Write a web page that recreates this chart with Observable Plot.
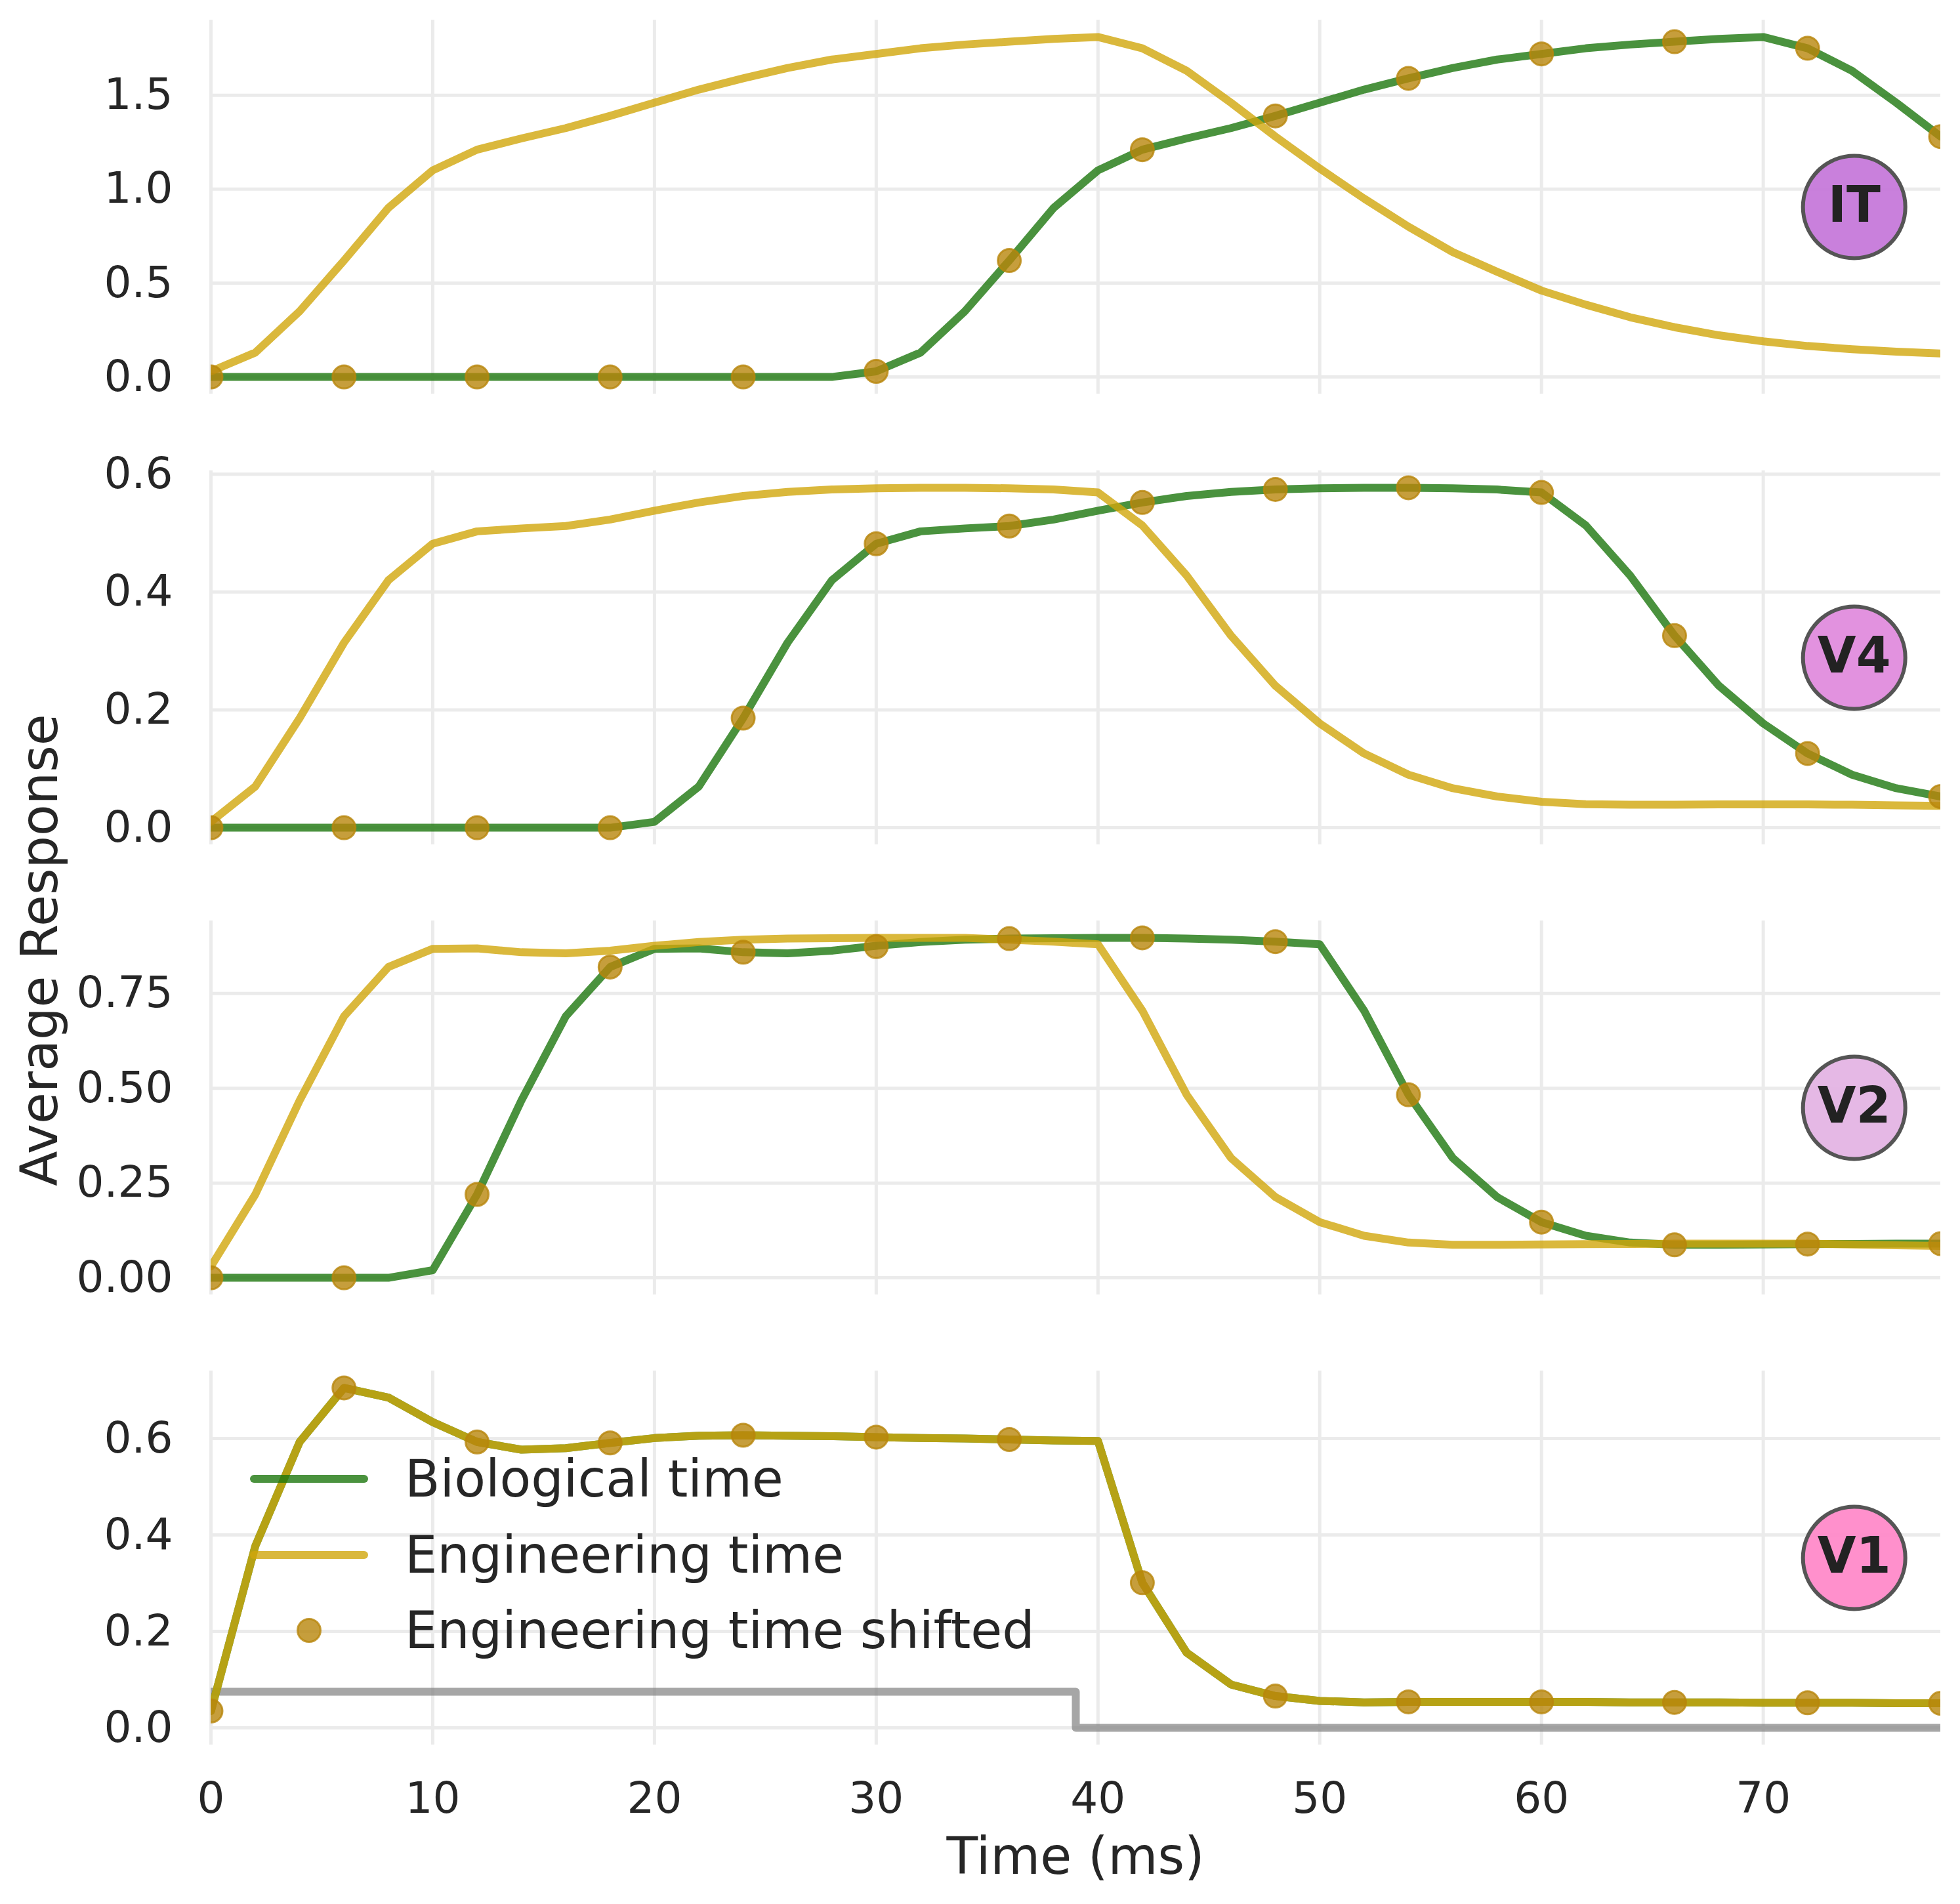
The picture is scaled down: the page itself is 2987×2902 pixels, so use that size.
<!DOCTYPE html>
<html>
<head>
<meta charset="utf-8">
<script src="https://cdn.jsdelivr.net/npm/d3@7"></script>
<script src="https://cdn.jsdelivr.net/npm/@observablehq/plot@0.6"></script>
<style>
  html, body { margin: 0; padding: 0; background: #ffffff; }
  #chart { position: relative; width: 2987px; height: 2902px; background: #ffffff; font-family: "DejaVu Sans", sans-serif; color: #262626; }
  .axis-title { position: absolute; font-size: 78px; line-height: 78px; text-align: center; white-space: nowrap; color: #262626; }
</style>
</head>
<body>
<div id="chart"></div>
<script>
// ---------- data ----------
const time = [0,2,4,6,8,10,12,14,16,18,20,22,24,26,28,30,32,34,36,38,40,42,44,46,48,50,52,54,56,58,60,62,64,66,68,70,72,74,76,78];
const dotTime = [0,6,12,18,24,30,36,42,48,54,60,66,72,78];
const xTicks = [0,10,20,30,40,50,60,70];

const itEng = [0.03,0.13,0.35,0.62,0.90,1.10,1.21,1.27,1.325,1.39,1.46,1.53,1.59,1.645,1.69,1.72,1.75,1.77,1.785,1.80,1.81,1.75,1.63,1.46,1.28,1.11,0.95,0.80,0.665,0.56,0.46,0.385,0.318,0.265,0.222,0.19,0.165,0.148,0.135,0.125];
const itBio = [0,0,0,0,0,0,0,0,0,0,0,0,0,0,0,0.03,0.13,0.35,0.62,0.90,1.10,1.21,1.27,1.325,1.39,1.46,1.53,1.59,1.645,1.69,1.72,1.75,1.77,1.785,1.80,1.81,1.75,1.63,1.46,1.28];
const itDots = [0,0,0,0,0,0.03,0.62,1.21,1.39,1.59,1.72,1.785,1.75,1.28];

const v4Eng = [0.01,0.07,0.186,0.314,0.42,0.482,0.503,0.508,0.512,0.523,0.538,0.552,0.563,0.570,0.574,0.576,0.577,0.577,0.576,0.574,0.569,0.513,0.428,0.326,0.241,0.177,0.126,0.090,0.067,0.053,0.044,0.040,0.039,0.039,0.0395,0.0395,0.0395,0.039,0.038,0.037];
const v4Bio = [0,0,0,0,0,0,0,0,0,0,0.01,0.07,0.186,0.314,0.42,0.482,0.503,0.508,0.512,0.523,0.538,0.552,0.563,0.570,0.574,0.576,0.577,0.577,0.576,0.574,0.569,0.513,0.428,0.326,0.241,0.177,0.126,0.090,0.067,0.053];
const v4Dots = [0,0,0,0,0.186,0.482,0.512,0.552,0.574,0.577,0.569,0.326,0.126,0.053];

const v2Eng = [0.03,0.22,0.468,0.69,0.82,0.868,0.869,0.859,0.856,0.863,0.876,0.886,0.892,0.895,0.896,0.897,0.897,0.897,0.892,0.887,0.880,0.705,0.483,0.316,0.213,0.147,0.111,0.093,0.087,0.087,0.088,0.089,0.0895,0.090,0.090,0.090,0.090,0.088,0.086,0.084];
const v2Bio = [0,0,0,0,0,0.02,0.22,0.468,0.69,0.82,0.868,0.869,0.859,0.856,0.863,0.876,0.886,0.892,0.895,0.896,0.897,0.897,0.895,0.892,0.887,0.880,0.705,0.483,0.316,0.213,0.147,0.111,0.093,0.087,0.087,0.088,0.089,0.0895,0.090,0.090];
const v2Dots = [0,0,0.22,0.82,0.859,0.874,0.895,0.897,0.887,0.483,0.147,0.087,0.089,0.090];

const v1Eng = [0.035,0.377,0.593,0.705,0.685,0.634,0.593,0.577,0.580,0.591,0.601,0.606,0.607,0.606,0.605,0.603,0.601,0.600,0.598,0.596,0.595,0.301,0.156,0.090,0.066,0.056,0.053,0.054,0.054,0.054,0.054,0.054,0.053,0.053,0.053,0.052,0.052,0.052,0.051,0.051];
const v1Bio = [0.035,0.377,0.593,0.705,0.685,0.634,0.593,0.577,0.580,0.591,0.601,0.606,0.607,0.606,0.605,0.603,0.601,0.600,0.598,0.596,0.595,0.301,0.156,0.090,0.066,0.056,0.053,0.054,0.054,0.054,0.054,0.054,0.053,0.053,0.053,0.052,0.052,0.052,0.051,0.051];
const v1Dots = [0.035,0.705,0.593,0.591,0.607,0.603,0.598,0.301,0.066,0.054,0.054,0.053,0.052,0.051];

const stimTime = [0,39,78];
const stimValue = [0.075,0,0];

const areaNames = ["IT","V4","V2","V1"];
const areaColors = ["#c576d9","#e08add","#e3b3e3","#ff88c8"];
const yTicksList = [[0,0.5,1.0,1.5],[0,0.2,0.4,0.6],[0,0.25,0.5,0.75],[0,0.2,0.4,0.6]];
const yFormats = [".1f",".1f",".2f",".1f"];
const legendLabels = ["Biological time","Engineering time","Engineering time shifted"];

// ---------- style ----------
const GREEN = "rgb(29,119,14)";
const YELLOW = "rgb(209,166,11)";
const GOLD = "#b8860b";
const GRID = "#ebebeb";
const TEXT = "#262626";
const LW = 12;

const bios = [itBio, v4Bio, v2Bio, v1Bio];
const engs = [itEng, v4Eng, v2Eng, v1Eng];
const dots = [itDots, v4Dots, v2Dots, v1Dots];

const chart = document.getElementById("chart");
const panelTops = [0, 687, 1373, 2059];
const W = 2987, ML = 321, MR = 30, MT = 30, PH = 570;

areaNames.forEach((name, i) => {
  const bottom = i === 3;
  const bioData = time.map((t, k) => ({t, v: bios[i][k]}));
  const engData = time.map((t, k) => ({t, v: engs[i][k]}));
  const dotData = dotTime.map((t, k) => ({t, v: dots[i][k]}));
  const stimData = stimTime.map((t, k) => ({t, v: stimValue[k]}));
  const all = [...bios[i], ...engs[i], ...dots[i], ...(bottom ? stimValue : [])];
  const lo = d3.min(all), hi = d3.max(all), pad = 0.05 * (hi - lo);
  const yDomain = [lo - pad, hi + pad];
  const xDomain = [0, 78];
  const badge = [{x: xDomain[0] + 0.95 * (xDomain[1] - xDomain[0]), y: (yDomain[0] + yDomain[1]) / 2, label: name}];
  const MB = bottom ? (2902 - panelTops[i] - MT - PH) : 86;
  const H = MT + PH + MB;

  const svg = Plot.plot({
    width: W,
    height: H,
    marginLeft: ML,
    marginRight: MR,
    marginTop: MT,
    marginBottom: MB,
    style: {fontFamily: "DejaVu Sans", color: TEXT, background: "transparent", overflow: "visible"},
    x: {domain: xDomain, axis: null},
    y: {domain: yDomain, axis: null},
    marks: [
      Plot.gridX({ticks: xTicks, stroke: GRID, strokeOpacity: 1, strokeWidth: 5}),
      Plot.gridY({ticks: yTicksList[i], stroke: GRID, strokeOpacity: 1, strokeWidth: 5}),
      Plot.axisY({ticks: yTicksList[i], tickSize: 0, tickPadding: 58, tickFormat: d3.format(yFormats[i]), fontSize: 66, label: null}),
      bottom ? Plot.axisX({ticks: xTicks, tickSize: 0, tickPadding: 57, fontSize: 66, label: null}) : null,
      bottom ? Plot.line(stimData, {x: "t", y: "v", curve: "step-after", stroke: "#808080", strokeOpacity: 0.7, strokeWidth: LW, clip: true}) : null,
      Plot.line(bioData, {x: "t", y: "v", stroke: GREEN, strokeOpacity: 0.8, strokeWidth: LW, clip: true}),
      Plot.line(engData, {x: "t", y: "v", stroke: YELLOW, strokeOpacity: 0.8, strokeWidth: LW, clip: true}),
      Plot.dot(dotData, {x: "t", y: "v", r: 17.5, fill: GOLD, fillOpacity: 0.8, stroke: GOLD, strokeOpacity: 0.8, strokeWidth: 3, clip: true}),
      Plot.dot(badge, {x: "x", y: "y", r: 78, fill: areaColors[i], fillOpacity: 0.93, stroke: "#555555", strokeWidth: 6}),
      Plot.text(badge, {x: "x", y: "y", text: "label", fontSize: 76, fontWeight: "bold", fill: "#222222", dy: -2})
    ].filter(Boolean)
  });
  svg.style.position = "absolute";
  svg.style.left = "0px";
  svg.style.top = panelTops[i] + "px";
  svg.style.maxWidth = "none";
  chart.appendChild(svg);
});

// ---------- legend (inside V1 panel, upper left) ----------
const legendSvg = d3.create("svg")
  .attr("width", 760).attr("height", 340)
  .style("position", "absolute").style("left", "360px").style("top", "2200px")
  .style("overflow", "visible");
const rowY = [54, 170, 285];
const legendStyles = [
  {type: "line", color: GREEN},
  {type: "line", color: YELLOW},
  {type: "dot", color: GOLD}
];
legendLabels.forEach((lab, k) => {
  const st = legendStyles[k];
  if (st.type === "line") {
    legendSvg.append("line")
      .attr("x1", 27).attr("x2", 195).attr("y1", rowY[k]).attr("y2", rowY[k])
      .attr("stroke", st.color).attr("stroke-opacity", 0.8)
      .attr("stroke-width", LW).attr("stroke-linecap", "round");
  } else {
    legendSvg.append("circle")
      .attr("cx", 111).attr("cy", rowY[k]).attr("r", 17.5)
      .attr("fill", st.color).attr("fill-opacity", 0.8)
      .attr("stroke", st.color).attr("stroke-opacity", 0.8).attr("stroke-width", 3);
  }
  legendSvg.append("text")
    .attr("x", 257).attr("y", rowY[k]).attr("dy", "0.35em")
    .attr("font-family", "DejaVu Sans").attr("font-size", 78).attr("fill", TEXT)
    .text(lab);
});
chart.appendChild(legendSvg.node());

// ---------- axis titles ----------
const xTitle = document.createElement("div");
xTitle.className = "axis-title";
xTitle.textContent = "Time (ms)";
xTitle.style.width = "1000px";
xTitle.style.left = (1639 - 500) + "px";
xTitle.style.top = "2790px";
chart.appendChild(xTitle);

const yTitle = document.createElement("div");
yTitle.className = "axis-title";
yTitle.textContent = "Average Response";
yTitle.style.width = "1000px";
yTitle.style.left = (60 - 500) + "px";
yTitle.style.top = (1448 - 39) + "px";
yTitle.style.transform = "rotate(-90deg)";
yTitle.style.transformOrigin = "50% 50%";
chart.appendChild(yTitle);
</script>
</body>
</html>
